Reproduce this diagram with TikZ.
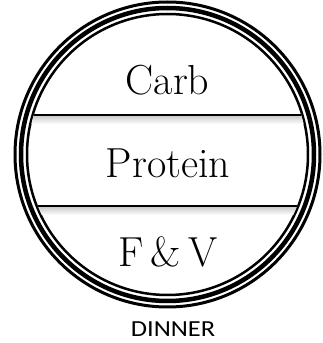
\documentclass[tikz,border=0pt]{standalone}
\usepackage{fontspec}
\newfontfamily\labelfont{Carlito}
\tikzset{
  ring/.style={draw=black},
  part/.style={font=\fontsize{42}{44}\selectfont, anchor=base, inner sep=0pt},
}
\begin{document}
\begin{tikzpicture}[x=1pt,y=1pt]
  \useasboundingbox (0,0) rectangle (322,343);
  \coordinate (c) at (167.5,188.5);
  % plate: three rings
  \draw[ring, line width=3pt]   (c) circle (152.5);
  \draw[ring, line width=4.5pt] (c) circle (146.5);
  \draw[ring, line width=2.5pt] (c) circle (140.5);
  % dividers with a soft shadow under them
  \begin{scope}
    \clip (c) circle (139.5);
    \foreach \y in {228,137} {
      \shade[top color=gray!45, bottom color=white] (0,\y-9) rectangle (322,\y);
      \draw[line width=2pt] (0,\y) -- (322,\y);
    }
  \end{scope}
  \node[part] (carb) at (167.5,248) {Carb};
  \node[part] (protein) at (168,165) {Protein};
  \node[part] (fv) at (168,76) {F\,\&\,V};
  \node[font=\labelfont\fontsize{23}{25}\selectfont, anchor=base, inner sep=0pt,
        xscale=1.15] (meal) at (173,6) {DINNER};
\end{tikzpicture}
\end{document}
